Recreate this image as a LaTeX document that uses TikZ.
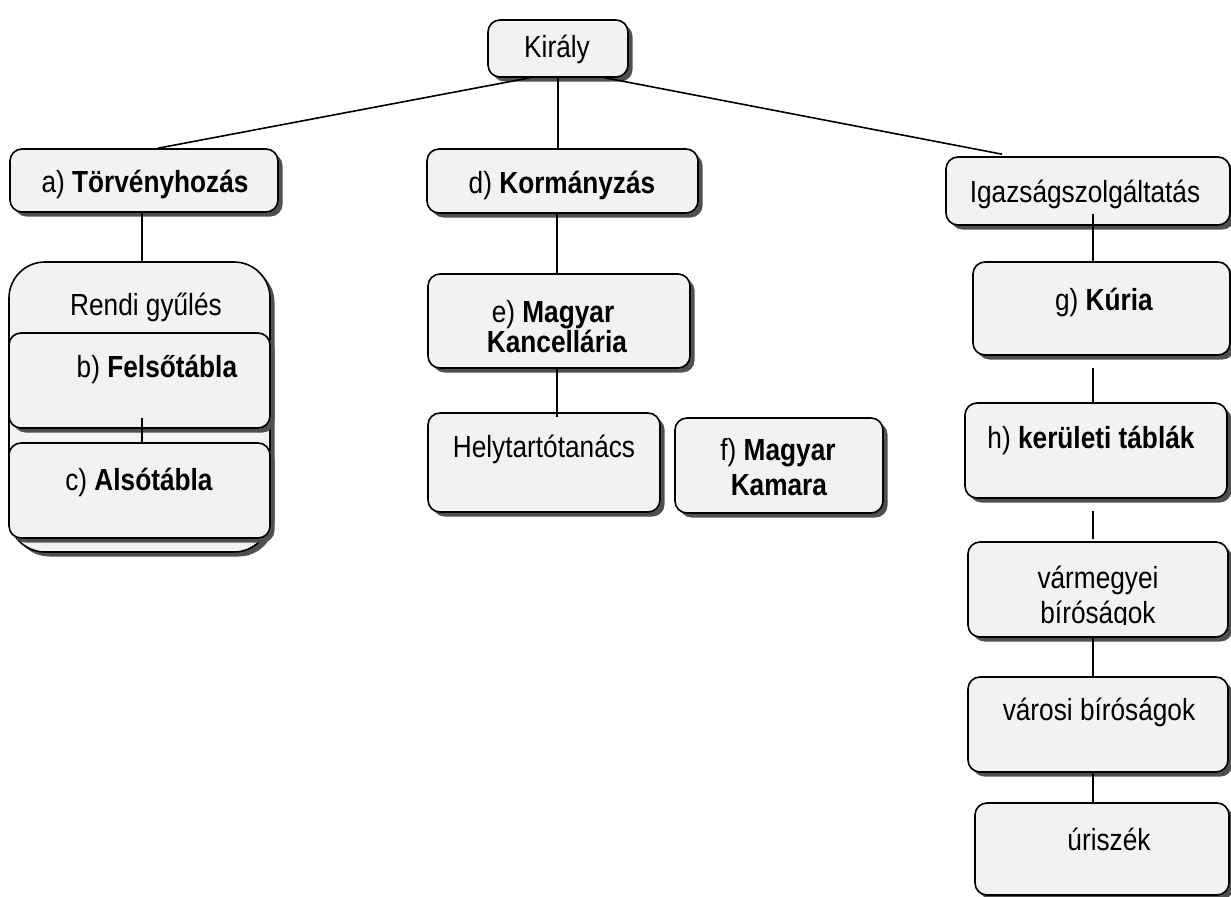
\documentclass[tikz,border=0pt]{standalone}
\usepackage{fontspec}
\setmainfont{Liberation Sans}[FakeStretch=0.86]
\usetikzlibrary{shadows,calc}
\definecolor{boxfill}{HTML}{F2F2F2}
\definecolor{shadowc}{HTML}{505050}
\begin{document}
\begin{tikzpicture}[x=1bp,y=-1bp,
  box/.style={draw=black, line width=1.6bp, fill=boxfill, rounded corners=12bp, inner sep=0pt,
    drop shadow={shadow xshift=4.5bp, shadow yshift=-4.5bp, fill=shadowc, opacity=1}},
  lbl/.style={anchor=base, inner sep=0pt, font=\fontsize{30.5bp}{35bp}\selectfont},
  link/.style={line width=1.6bp, draw=black}]
\useasboundingbox[fill=white] (0,0) rectangle (1231,897);

% boxes
\node[box, minimum width=140bp, minimum height=57bp] (kiraly) at (558,48.5) {};
\node[box, minimum width=268bp, minimum height=63bp] (torv) at (144,180.5) {};
\node[box, minimum width=271bp, minimum height=64bp] (korm) at (562.5,181) {};
\node[box, minimum width=284bp, minimum height=68bp] (igaz) at (1088,191) {};

\node[box, rounded corners=36bp, minimum width=261bp, minimum height=290bp] (rendi) at (139.5,407) {};
\node[box, minimum width=261bp, minimum height=95bp] (felso) at (139.5,380.5) {};
\node[box, minimum width=261bp, minimum height=95bp] (also) at (139.5,490.5) {};

\node[box, minimum width=262bp, minimum height=94bp] (kanc) at (559,321) {};
\node[box, minimum width=232bp, minimum height=99bp] (helyt) at (544,462.5) {};
\node[box, minimum width=208bp, minimum height=95bp] (kamara) at (779,465.5) {};

\node[box, minimum width=257bp, minimum height=93bp] (kuria) at (1101.5,308.5) {};
\node[box, minimum width=262bp, minimum height=95bp] (kerul) at (1096,450.5) {};
\node[box, minimum width=260bp, minimum height=95bp] (varm) at (1098,589.5) {};
\node[box, minimum width=260bp, minimum height=95bp] (varosi) at (1098,724.5) {};
\node[box, minimum width=254bp, minimum height=92bp] (uri) at (1102,849) {};

% texts
\node[lbl] (kiralyT) at (557,57) {Király};
\node[lbl] (torvT) at (145,192) {a) \textbf{Törvényhozás}};
\node[lbl] (kormT) at (562,193) {d) \textbf{Kormányzás}};
\node[lbl] (igazT) at (1085,202) {Igazságszolgáltatás};
\node[lbl] (rendiT) at (146,315) {Rendi gyűlés};
\node[lbl] (felsoT) at (157,377) {b) \textbf{Felsőtábla}};
\node[lbl] (alsoT) at (139,490) {c) \textbf{Alsótábla}};
\node[lbl] (kancT1) at (553,322) {e) \textbf{Magyar}};
\node[lbl] (kancT2) at (557,352) {\textbf{Kancellária}};
\node[lbl] (helytT) at (544,457) {Helytartótanács};
\node[lbl] (kamaraT1) at (778,460) {f) \textbf{Magyar}};
\node[lbl] (kamaraT2) at (779,495) {\textbf{Kamara}};
\node[lbl] (kuriaT) at (1104,310) {g) \textbf{Kúria}};
\node[lbl] (kerulT) at (1091,448) {h) \textbf{kerületi táblák}};
\begin{scope}
\clip (968,540) rectangle (1228,624);
\node[lbl] (varmT1) at (1098,588) {vármegyei};
\node[lbl] (varmT2) at (1098,623) {bíróságok};
\end{scope}
\node[lbl] (varosiT) at (1099,720) {városi bíróságok};
\node[lbl] (uriT) at (1109,850) {úriszék};

% connectors
\coordinate (kx) at (557,0);
\coordinate (jx) at (1093,0);
\draw[link] ($(kiraly.south)+(-28,0)$) -- ($(torv.north)+(14,0)$);
\draw[link] (kiraly.south) -- (kiraly.south |- korm.north);
\draw[link] ($(kiraly.south)+(47,0)$) -- ($(igaz.north)+(-86,-2)$);
\draw[link] ($(torv.south)+(-2,0)$) -- ($(rendi.north)+(2.5,0)$);
\draw[link] ($(felso.south)+(2.5,-11)$) -- ($(also.north)+(2.5,0)$);
\draw[link] (korm.south -| kx) -- (kanc.north -| kx);
\draw[link] (kanc.south -| kx) -- ($(helyt.north -| kx)+(0,5)$);
\draw[link] ($(igaz.south -| jx)+(0,-12)$) -- (kuria.north -| jx);
\draw[link] ($(kuria.south -| jx)+(0,12)$) -- (kerul.north -| jx);
\draw[link] ($(kerul.south -| jx)+(0,12)$) -- ($(varm.north -| jx)+(0,-2)$);
\draw[link] (varm.south -| jx) -- (varosi.north -| jx);
\draw[link] (varosi.south -| jx) -- (uri.north -| jx);
\end{tikzpicture}
\end{document}
